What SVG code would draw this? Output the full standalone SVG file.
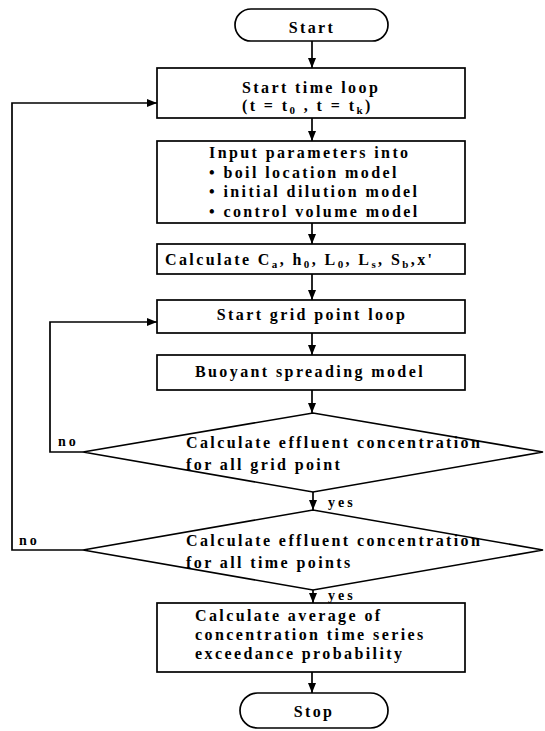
<svg xmlns="http://www.w3.org/2000/svg" width="545" height="731" viewBox="0 0 545 731">
<style>
.s{fill:#fff;stroke:#000;stroke-width:1.7}
.t{font-family:"Liberation Serif","Times New Roman",serif;font-weight:bold;font-size:16px;letter-spacing:2.4px;fill:#000}
.m{text-anchor:middle}
.sub{font-size:11px}
.l{font-family:"Liberation Serif","Times New Roman",serif;font-weight:bold;font-size:14px;letter-spacing:3px;fill:#000}
.c{fill:none;stroke:#000;stroke-width:1.7}
</style>
<defs>
<marker id="ah" markerUnits="userSpaceOnUse" markerWidth="10" markerHeight="10" refX="10" refY="5" orient="auto">
<path d="M0,1 L10,5 L0,9 Z" fill="#000"/>
</marker>
</defs>
<rect width="545" height="731" fill="#fff"/>
<g id="connectors">
<line class="c" x1="312" y1="41" x2="312" y2="68" marker-end="url(#ah)"/>
<line class="c" x1="312" y1="118" x2="312" y2="141" marker-end="url(#ah)"/>
<line class="c" x1="312" y1="223" x2="312" y2="244" marker-end="url(#ah)"/>
<line class="c" x1="312" y1="274" x2="312" y2="300" marker-end="url(#ah)"/>
<line class="c" x1="312" y1="333" x2="312" y2="355" marker-end="url(#ah)"/>
<line class="c" x1="312" y1="390" x2="312" y2="413" marker-end="url(#ah)"/>
<line class="c" x1="313" y1="492" x2="313" y2="510" marker-end="url(#ah)"/>
<line class="c" x1="313" y1="590" x2="313" y2="603" marker-end="url(#ah)"/>
<line class="c" x1="312" y1="672" x2="312" y2="693" marker-end="url(#ah)"/>
<polyline class="c" points="83,452 50,452 50,322 157,322" marker-end="url(#ah)"/>
<polyline class="c" points="83,550 12,550 12,103 157,103" marker-end="url(#ah)"/>
<text class="l" x="58" y="446">no</text>
<text class="l" x="19" y="545">no</text>
<text class="l" x="328" y="507">yes</text>
<text class="l" x="328" y="600">yes</text>
</g>
<g id="start">
<rect class="s" x="235" y="9" width="153" height="32" rx="16"/>
<text class="t m" x="312" y="33">Start</text>
</g>
<g id="timeloop">
<rect class="s" x="157" y="68" width="308" height="50"/>
<text class="t" x="242" y="93">Start time loop</text>
<text class="t" x="242" y="111">(t = t<tspan class="sub" dy="3">0</tspan><tspan dy="-3"> , t = t</tspan><tspan class="sub" dy="3">k</tspan><tspan dy="-3">)</tspan></text>
</g>
<g id="input">
<rect class="s" x="157" y="141" width="308" height="82"/>
<text class="t" x="209" y="158">Input parameters into</text>
<text class="t" x="209" y="177.5">• boil location model</text>
<text class="t" x="209" y="197">• initial dilution model</text>
<text class="t" x="209" y="216.5">• control volume model</text>
</g>
<g id="calc">
<rect class="s" x="157" y="244" width="308" height="30"/>
<text class="t" x="165" y="265">Calculate C<tspan class="sub" dy="3">a</tspan><tspan dy="-3">, h</tspan><tspan class="sub" dy="3">0</tspan><tspan dy="-3">, L</tspan><tspan class="sub" dy="3">0</tspan><tspan dy="-3">, L</tspan><tspan class="sub" dy="3">s</tspan><tspan dy="-3">, S</tspan><tspan class="sub" dy="3">b</tspan><tspan dy="-3">,x'</tspan></text>
</g>
<g id="gridloop">
<rect class="s" x="157" y="300" width="308" height="33"/>
<text class="t m" x="312" y="320">Start grid point loop</text>
</g>
<g id="buoyant">
<rect class="s" x="157" y="355" width="308" height="35"/>
<text class="t m" x="310" y="377">Buoyant spreading model</text>
</g>
<g id="decision-grid">
<polygon class="s" points="83,452 313,413 543,452 313,492"/>
<text class="t" x="186" y="448">Calculate effluent concentration</text>
<text class="t" x="186" y="470">for all grid point</text>
</g>
<g id="decision-time">
<polygon class="s" points="83,550 313,510 543,550 313,590"/>
<text class="t" x="186" y="546">Calculate effluent concentration</text>
<text class="t" x="186" y="568">for all time points</text>
</g>
<g id="average">
<rect class="s" x="157" y="603" width="308" height="69"/>
<text class="t" x="195" y="621">Calculate average of</text>
<text class="t" x="195" y="640">concentration time series</text>
<text class="t" x="195" y="659">exceedance probability</text>
</g>
<g id="stop">
<rect class="s" x="240" y="693" width="148" height="35" rx="17.5"/>
<text class="t m" x="314" y="717">Stop</text>
</g>
</svg>
